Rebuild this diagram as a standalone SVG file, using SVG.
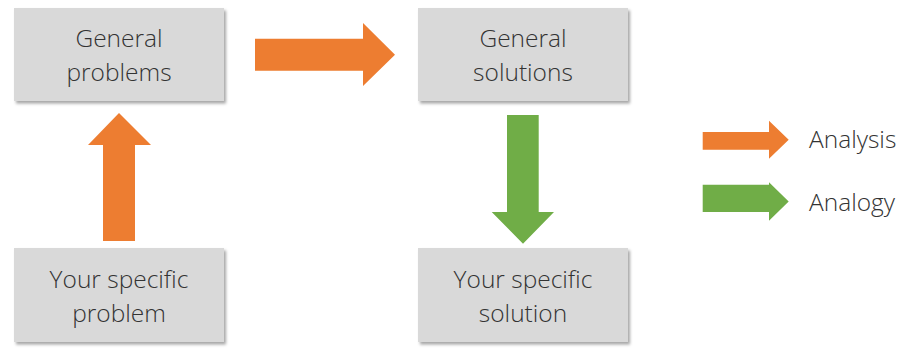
<svg xmlns="http://www.w3.org/2000/svg" width="901" height="348" viewBox="0 0 901 348">
<defs>
<filter id="sh" x="-5%" y="-5%" width="115%" height="120%">
<feDropShadow dx="2" dy="2.5" stdDeviation="1.5" flood-color="#000" flood-opacity="0.35"/>
</filter>
</defs>
<style>
.box{fill:#d9d9d9;filter:url(#sh)}
.t{font-family:"Open Sans","Liberation Sans",sans-serif;font-size:24.5px;font-weight:300;fill:#333333;text-anchor:middle}
.lg{font-family:"Open Sans","Liberation Sans",sans-serif;font-size:24.5px;font-weight:300;fill:#333333}
.or{fill:#ed7d31}
.gr{fill:#70ad47}
</style>
<rect width="901" height="348" fill="#fff"/>
<g id="general-problems">
<rect class="box" x="14" y="8" width="210" height="93"/>
<text class="t" x="119" y="46.7">General</text>
<text class="t" x="119" y="81">problems</text>
</g>
<g id="general-solutions">
<rect class="box" x="418" y="8" width="210" height="93"/>
<text class="t" x="523" y="46.7">General</text>
<text class="t" x="523" y="81">solutions</text>
</g>
<g id="specific-problem">
<rect class="box" x="14" y="248" width="210" height="94"/>
<text class="t" x="119" y="287.7">Your specific</text>
<text class="t" x="119" y="321.7">problem</text>
</g>
<g id="specific-solution">
<rect class="box" x="418" y="248" width="210" height="94"/>
<text class="t" x="523" y="287.7">Your specific</text>
<text class="t" x="523" y="321.7">solution</text>
</g>
<g id="connectors">
<polygon class="or" points="255,38.7 363,38.7 363,23 395,54.8 363,86 363,70.7 255,70.7"/>
<polygon class="or" points="103,241 103,145 88,145 119,113 151,145 135,145 135,241"/>
<polygon class="gr" points="507,115 538.7,115 538.7,212 554,212 523,243.7 491.7,212 507,212"/>
</g>
<g id="legend">
<polygon class="or" points="702.7,132 769,132 769,120.7 788.7,139.7 769,158.7 769,149.7 702.7,149.7"/>
<text class="lg" x="809" y="148">Analysis</text>
<polygon class="gr" points="702.7,184.7 769,184.7 769,182.3 788.7,201.5 769,220.7 769,212 702.7,212"/>
<text class="lg" x="809" y="211">Analogy</text>
</g>
</svg>
